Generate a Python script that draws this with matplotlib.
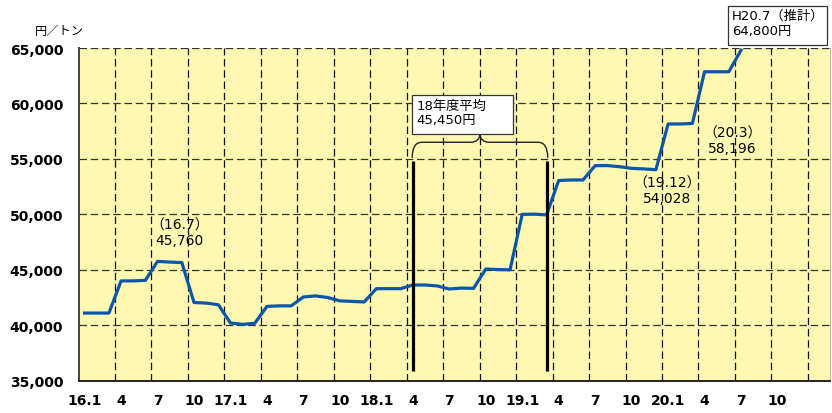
import matplotlib
matplotlib.use("Agg")
import matplotlib.pyplot as plt
from matplotlib.patches import Rectangle, PathPatch
from matplotlib.path import Path

plt.rcParams["font.family"] = ["DejaVu Sans", "Noto Sans CJK JP"]

# 月次価格 (H16.1 - H20.7), 円/トン
prices = [
    41100, 41100, 41100, 44000, 44000, 44050, 45760, 45700, 45650, 42050, 42000, 41850,
    40200, 40080, 40180, 41700, 41750, 41750, 42550, 42650, 42500, 42200, 42150, 42100,
    43300, 43300, 43300, 43630, 43630, 43550, 43270, 43350, 43330, 45070, 45020, 45000,
    50000, 50020, 49950, 53050, 53100, 53100, 54390, 54400, 54300, 54150, 54100, 54028,
    58150, 58150, 58196, 62860, 62860, 62860, 64800,
]
tick_labels = ["16.1", "4", "7", "10", "17.1", "4", "7", "10", "18.1", "4", "7", "10",
               "19.1", "4", "7", "10", "20.1", "4", "7", "10"]
fy18_start, fy18_end = 27, 38   # 18.4 と 19.3 のインデックス

x = [i + 0.5 for i in range(len(prices))]

fig = plt.figure(figsize=(8.32, 4.14), dpi=100)
ax = fig.add_axes([0.0944, 0.078, 0.9036, 0.8036])
ax.set_facecolor("#FFF8B2")

ax.set_xlim(0, 61.85)
ax.set_ylim(35000, 65000)

dash = (0, (6, 3))
ax.set_yticks(range(35000, 65001, 5000))
ax.set_yticklabels([f"{v:,}" for v in range(35000, 65001, 5000)], fontweight="bold", fontsize=10)
ax.set_xticks([i * 3 + 0.5 for i in range(len(tick_labels))])
ax.set_xticklabels(tick_labels, fontweight="bold", fontsize=10)
ax.set_xticks(range(3, 61, 3), minor=True)
ax.tick_params(axis="both", which="both", length=0)
ax.tick_params(axis="y", pad=11)
ax.tick_params(axis="x", pad=9)
ax.grid(axis="y", which="major", color="#333333", linestyle=dash, linewidth=0.9)
ax.grid(axis="x", which="minor", color="#111111", linestyle=dash, linewidth=0.9)
ax.grid(axis="x", which="major", visible=False)

ax.spines["top"].set_visible(False)
ax.spines["right"].set_color("#bbbbbb")
ax.spines["left"].set_color("#444444")
ax.spines["left"].set_linewidth(1.4)
ax.spines["bottom"].set_color("#222222")
ax.spines["bottom"].set_linewidth(1.4)

ax.plot(x, prices, color="#0A56A8", linewidth=2.3, solid_joinstyle="round", zorder=4)

# 18年度の範囲
ax.vlines([fy18_start + 0.5, fy18_end + 0.5], 35900, 54800, color="black", linewidth=2.3, zorder=5)

# 中括弧
xl, xr = fy18_start + 0.45, fy18_end + 0.6
xm = (xl + xr) / 2
y0, y1, y2 = 55100, 56500, 57300
r = 0.8
verts = [(xl, y0), (xl, y1), (xl + r, y1), (xm - r, y1), (xm, y1), (xm, y2),
         (xm, y1), (xm + r, y1), (xr - r, y1), (xr, y1), (xr, y0)]
codes = [Path.MOVETO, Path.CURVE3, Path.CURVE3, Path.LINETO, Path.CURVE3, Path.CURVE3,
         Path.CURVE3, Path.CURVE3, Path.LINETO, Path.CURVE3, Path.CURVE3]
ax.add_patch(PathPatch(Path(verts, codes), facecolor="none", edgecolor="#222222", linewidth=1.0, zorder=5))

# 平均値ボックス
ax.add_patch(Rectangle((27.45, 57250), 8.3, 3500, facecolor="white", edgecolor="#333333",
                       linewidth=0.9, zorder=6))
ax.text(27.8, 60450, "18年度平均\n45,450円", fontsize=9.5, va="top", ha="left",
        linespacing=1.2, zorder=7)

# 推計ボックス（枠外）
ax.add_patch(Rectangle((53.45, 65270), 8.15, 3520, facecolor="white", edgecolor="#333333",
                       linewidth=0.9, zorder=6, clip_on=False))
ax.text(53.75, 68550, "H20.7（推計）\n64,800円", fontsize=9.5, va="top", ha="left",
        linespacing=1.2, zorder=7, clip_on=False)

# 注記
notes = [(8.3, 48400, "（16.7）\n45,760"),
         (48.4, 52200, "（19.12）\n54,028"),
         (53.8, 56650, "（20.3）\n58,196")]
for nx, ny, txt in notes:
    ax.text(nx, ny, txt, fontsize=10, ha="center", va="center", linespacing=1.1, zorder=7)

fig.text(0.071, 0.923, "円／トン", fontsize=8.8, ha="center", va="center")

fig.savefig("out.png", dpi=100)
